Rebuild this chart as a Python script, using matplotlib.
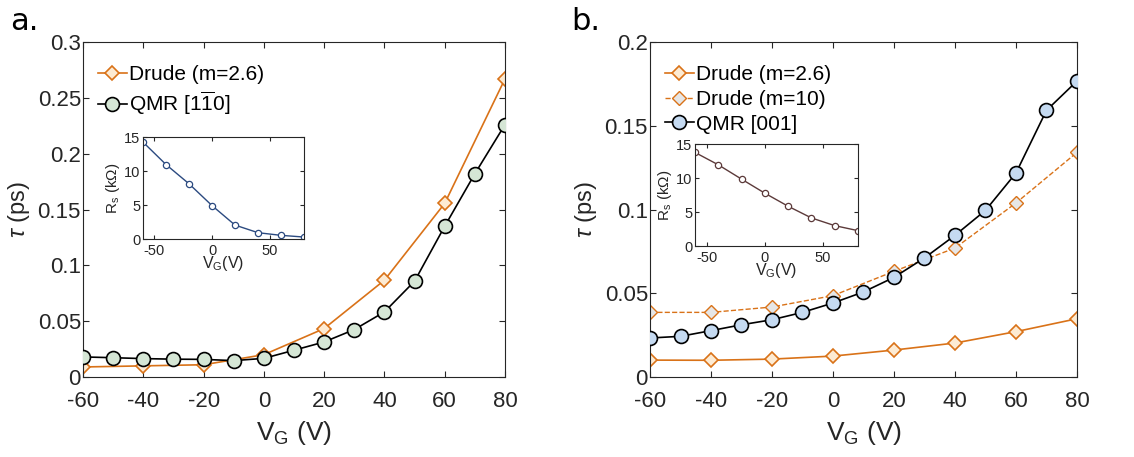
import numpy as np
import matplotlib.pyplot as plt
from matplotlib.ticker import FuncFormatter

plt.rcParams['font.family'] = ['Liberation Sans', 'DejaVu Sans']
plt.rcParams['mathtext.fontset'] = 'custom'
plt.rcParams['mathtext.rm'] = 'Liberation Sans'
plt.rcParams['mathtext.it'] = 'Liberation Sans:italic'
plt.rcParams['axes.unicode_minus'] = False

# gate voltages
vg_drude = [-60, -40, -20, 0, 20, 40, 60, 80]
vg_qmr = [-60, -50, -40, -30, -20, -10, 0, 10, 20, 30, 40, 50, 60, 70, 80]

# panel a
drude_a = [0.009, 0.010, 0.011, 0.020, 0.0434, 0.0867, 0.1555, 0.267]
qmr_a = [0.018, 0.0173, 0.0165, 0.016, 0.0158, 0.0147, 0.0167, 0.024,
         0.0314, 0.0425, 0.0583, 0.0858, 0.135, 0.182, 0.226]
rs_a = [14.27, 10.96, 8.13, 4.92, 2.05, 0.93, 0.54, 0.29]

# panel b
drude_b = [0.0101, 0.0100, 0.0107, 0.0125, 0.0161, 0.0203, 0.0271, 0.0348]
drude10_b = [0.0386, 0.0386, 0.0418, 0.0486, 0.0631, 0.0770, 0.1039, 0.1341]
qmr_b = [0.0233, 0.0243, 0.0277, 0.0312, 0.0342, 0.0386, 0.0442, 0.0508,
         0.0595, 0.0711, 0.0846, 0.0995, 0.1218, 0.1592, 0.1767]
rs_b = [13.77, 11.95, 9.84, 7.77, 5.85, 4.13, 3.0, 2.26]

orange = '#D97218'
txt = '#262626'
fmt = FuncFormatter(lambda v, p: '%g' % v)


def style(ax, fs):
    ax.tick_params(direction='in', top=True, right=True, labelsize=fs,
                   colors=txt, length=4, width=0.8)
    for s in ax.spines.values():
        s.set_color('#262626')
        s.set_linewidth(0.8)
    ax.yaxis.set_major_formatter(fmt)


def inset(fig, rect, rs, col):
    ax = fig.add_axes(rect)
    ax.plot(vg_drude, rs, '-o', color=col, lw=1, ms=4.5, mfc='white', mew=0.9)
    ax.set_xlim(-60, 80)
    ax.set_ylim(0, 15)
    ax.set_xticks([-50, 0, 50])
    ax.set_yticks([0, 5, 10, 15])
    style(ax, 10.5)
    ax.tick_params(length=3)
    ax.tick_params(axis='y', pad=2)
    ax.set_xlabel('V$_\\mathrm{G}$(V)', fontsize=11.5, color=txt, labelpad=-3)
    ax.set_ylabel('R$_\\mathrm{s}$ (k$\\Omega$)', fontsize=11, color=txt, labelpad=1)
    return ax


def main_axes(ax, ymax):
    ax.set_xlim(-60, 80)
    ax.set_ylim(0, ymax)
    ax.set_xticks(np.arange(-60, 81, 20))
    ax.set_yticks(np.arange(0, ymax + 0.001, 0.05))
    style(ax, 16)
    ax.tick_params(axis='x', pad=10)
    ax.tick_params(axis='y', pad=1.5)
    ax.set_xlabel('V$_\\mathrm{G}$ (V)', fontsize=19, color=txt, labelpad=5)
    ax.set_ylabel('$\\tau$ (ps)', fontsize=17, color=txt, labelpad=4)
    ax.legend(loc='upper left', frameon=False, fontsize=15, handlelength=1.4,
              handletextpad=0.1, borderaxespad=0.3, labelspacing=0.28,
              bbox_to_anchor=(0.0, 0.975))


fig = plt.figure(figsize=(11.34, 4.57), dpi=100)

# ---- panel a
ax1 = fig.add_axes([0.0732, 0.175, 0.3721, 0.733])
ax1.plot(vg_drude, drude_a, '-D', color=orange, lw=1.2, ms=7.5,
         mfc='#FDEBD3', mec=orange, mew=1.2, label='Drude (m=2.6)', zorder=2)
ax1.plot(vg_qmr, qmr_a, '-o', color='black', lw=1.2, ms=10,
         mfc='#D5E6D5', mec='black', mew=1.2,
         label='QMR [1$\\overline{\\mathrm{1}}$0]', zorder=3)
main_axes(ax1, 0.3)
inset(fig, [0.1261, 0.477, 0.142, 0.223], rs_a, '#2B4A80')
fig.text(0.009, 0.985, 'a.', fontsize=22, va='top', family='DejaVu Sans')

# ---- panel b
ax2 = fig.add_axes([0.5732, 0.175, 0.3765, 0.733])
ax2.plot(vg_drude, drude_b, '-D', color=orange, lw=1.2, ms=7.5,
         mfc='#FDEBD3', mec=orange, mew=1.2, label='Drude (m=2.6)', zorder=2)
ax2.plot(vg_drude, drude10_b, '--D', color=orange, lw=1.0, ms=7.5,
         mfc='#E6E6E6', mec=orange, mew=1.0, label='Drude (m=10)', zorder=2)
ax2.plot(vg_qmr, qmr_b, '-o', color='black', lw=1.2, ms=10,
         mfc='#C5DAF1', mec='black', mew=1.2, label='QMR [001]', zorder=3)
main_axes(ax2, 0.2)
inset(fig, [0.6129, 0.4617, 0.1437, 0.223], rs_b, '#5C3A3A')
fig.text(0.504, 0.985, 'b.', fontsize=22, va='top', family='DejaVu Sans')

fig.savefig('out.png', dpi=100)
